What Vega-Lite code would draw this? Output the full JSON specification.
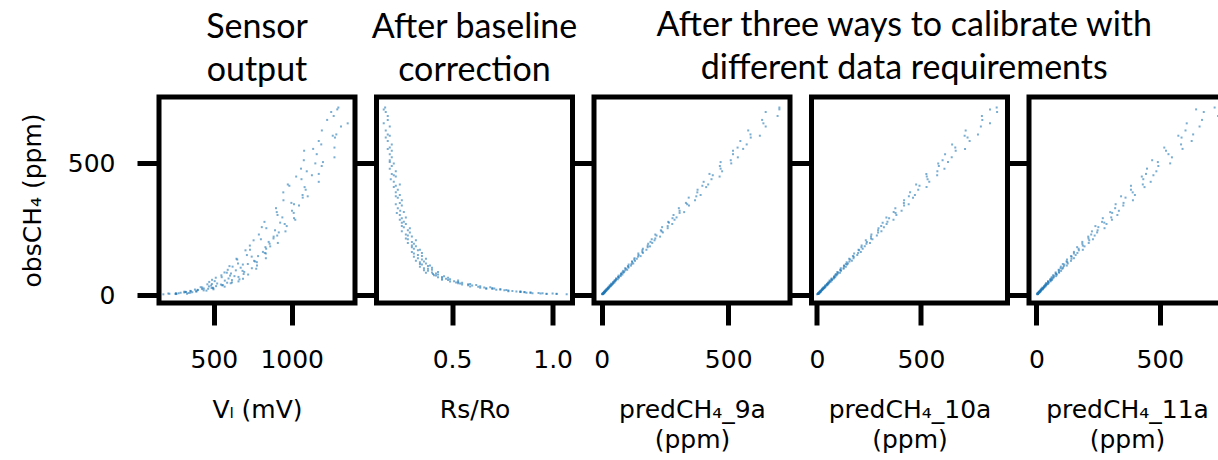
{
"$schema": "https://vega.github.io/schema/vega-lite/v6.json",
"padding": {"left": 17, "top": 8, "right": 0, "bottom": 0},
"bounds": "flush",
"spacing": 21.5,
"config": {
  "view": {"stroke": "black", "strokeWidth": 5},
  "axis": {"grid": false, "domain": false, "tickColor": "black", "tickWidth": 5, "tickSize": 22, "labelFont": "DejaVu Sans", "labelFontSize": 25, "labelColor": "black", "labelPadding": 22, "titleFont": "DejaVu Sans", "titleFontSize": 25, "titleFontWeight": "normal", "titleColor": "black", "titlePadding": 22, "titleLineHeight": 30, "labelFlush": false, "labelOverlap": false},
  "axisX": {"titlePadding": 25},
  "title": {"font": "Lato", "fontSize": 34, "fontWeight": "normal", "color": "black", "lineHeight": 43, "anchor": "middle", "frame": "group", "offset": 9}
},
"data": {"values": [
{"o":3,"v":175,"r":1.07,"a":4,"b":1,"c":4},
{"o":4,"v":259,"r":1.02,"a":2,"b":6,"c":6},
{"o":4,"v":253,"r":0.97,"a":4,"b":5,"c":4},
{"o":5,"v":214,"r":1.02,"a":7,"b":5,"c":4},
{"o":5,"v":327,"r":0.97,"a":4,"b":8,"c":6},
{"o":6,"v":256,"r":0.94,"a":4,"b":5,"c":5},
{"o":6,"v":207,"r":1.0,"a":7,"b":8,"c":7},
{"o":7,"v":255,"r":0.9,"a":7,"b":11,"c":5},
{"o":7,"v":273,"r":0.95,"a":6,"b":8,"c":7},
{"o":8,"v":337,"r":0.93,"a":10,"b":8,"c":11},
{"o":9,"v":286,"r":0.89,"a":7,"b":12,"c":8},
{"o":9,"v":348,"r":0.87,"a":10,"b":10,"c":6},
{"o":10,"v":310,"r":0.89,"a":12,"b":13,"c":12},
{"o":11,"v":361,"r":0.86,"a":10,"b":11,"c":11},
{"o":12,"v":320,"r":0.86,"a":10,"b":15,"c":11},
{"o":12,"v":318,"r":0.84,"a":13,"b":17,"c":14},
{"o":13,"v":310,"r":0.84,"a":12,"b":15,"c":10},
{"o":14,"v":385,"r":0.84,"a":15,"b":14,"c":15},
{"o":14,"v":389,"r":0.82,"a":12,"b":19,"c":17},
{"o":15,"v":351,"r":0.78,"a":15,"b":18,"c":14},
{"o":16,"v":349,"r":0.8,"a":18,"b":18,"c":14},
{"o":17,"v":452,"r":0.78,"a":16,"b":23,"c":19},
{"o":18,"v":434,"r":0.76,"a":15,"b":19,"c":17},
{"o":19,"v":397,"r":0.77,"a":20,"b":24,"c":20},
{"o":20,"v":395,"r":0.72,"a":20,"b":27,"c":17},
{"o":21,"v":378,"r":0.74,"a":19,"b":25,"c":21},
{"o":22,"v":497,"r":0.74,"a":24,"b":24,"c":26},
{"o":23,"v":424,"r":0.7,"a":20,"b":30,"c":22},
{"o":24,"v":463,"r":0.67,"a":24,"b":28,"c":20},
{"o":25,"v":435,"r":0.71,"a":27,"b":32,"c":27},
{"o":26,"v":496,"r":0.67,"a":25,"b":28,"c":26},
{"o":27,"v":485,"r":0.7,"a":24,"b":33,"c":25},
{"o":28,"v":493,"r":0.64,"a":29,"b":38,"c":31},
{"o":29,"v":425,"r":0.66,"a":27,"b":34,"c":25},
{"o":30,"v":415,"r":0.69,"a":31,"b":32,"c":31},
{"o":32,"v":569,"r":0.63,"a":28,"b":41,"c":36},
{"o":33,"v":468,"r":0.59,"a":33,"b":40,"c":32},
{"o":34,"v":514,"r":0.64,"a":37,"b":39,"c":31},
{"o":36,"v":482,"r":0.6,"a":34,"b":47,"c":38},
{"o":37,"v":554,"r":0.58,"a":32,"b":41,"c":35},
{"o":38,"v":557,"r":0.62,"a":40,"b":47,"c":40},
{"o":40,"v":545,"r":0.55,"a":39,"b":53,"c":36},
{"o":41,"v":458,"r":0.58,"a":38,"b":49,"c":41},
{"o":42,"v":487,"r":0.59,"a":44,"b":48,"c":47},
{"o":44,"v":521,"r":0.54,"a":39,"b":56,"c":42},
{"o":45,"v":608,"r":0.53,"a":45,"b":52,"c":39},
{"o":47,"v":585,"r":0.55,"a":50,"b":59,"c":50},
{"o":48,"v":616,"r":0.52,"a":46,"b":54,"c":48},
{"o":50,"v":470,"r":0.53,"a":46,"b":61,"c":47},
{"o":52,"v":658,"r":0.49,"a":53,"b":69,"c":57},
{"o":53,"v":505,"r":0.51,"a":50,"b":62,"c":47},
{"o":55,"v":570,"r":0.53,"a":56,"b":61,"c":57},
{"o":57,"v":616,"r":0.48,"a":52,"b":73,"c":63},
{"o":58,"v":488,"r":0.45,"a":57,"b":70,"c":57},
{"o":60,"v":664,"r":0.49,"a":64,"b":70,"c":56},
{"o":62,"v":687,"r":0.47,"a":59,"b":80,"c":65},
{"o":63,"v":594,"r":0.45,"a":57,"b":71,"c":60},
{"o":66,"v":512,"r":0.48,"a":68,"b":82,"c":69},
{"o":68,"v":550,"r":0.43,"a":67,"b":88,"c":62},
{"o":69,"v":658,"r":0.45,"a":65,"b":82,"c":70},
{"o":72,"v":632,"r":0.46,"a":75,"b":83,"c":80},
{"o":74,"v":604,"r":0.42,"a":67,"b":93,"c":72},
{"o":75,"v":548,"r":0.41,"a":75,"b":88,"c":67},
{"o":78,"v":720,"r":0.43,"a":82,"b":97,"c":83},
{"o":80,"v":691,"r":0.405,"a":77,"b":91,"c":80},
{"o":82,"v":610,"r":0.42,"a":77,"b":100,"c":78},
{"o":85,"v":583,"r":0.37,"a":86,"b":111,"c":92},
{"o":86,"v":568,"r":0.4,"a":82,"b":102,"c":78},
{"o":88,"v":695,"r":0.43,"a":89,"b":98,"c":91},
{"o":92,"v":684,"r":0.38,"a":85,"b":116,"c":100},
{"o":94,"v":641,"r":0.36,"a":93,"b":114,"c":92},
{"o":96,"v":589,"r":0.4,"a":101,"b":112,"c":90},
{"o":100,"v":772,"r":0.38,"a":96,"b":128,"c":105},
{"o":102,"v":744,"r":0.36,"a":93,"b":115,"c":98},
{"o":104,"v":672,"r":0.4,"a":106,"b":129,"c":108},
{"o":108,"v":620,"r":0.34,"a":106,"b":139,"c":99},
{"o":110,"v":600,"r":0.38,"a":104,"b":131,"c":111},
{"o":112,"v":777,"r":0.39,"a":116,"b":130,"c":123},
{"o":116,"v":686,"r":0.35,"a":107,"b":145,"c":113},
{"o":118,"v":718,"r":0.34,"a":118,"b":139,"c":107},
{"o":120,"v":655,"r":0.37,"a":125,"b":149,"c":127},
{"o":125,"v":776,"r":0.34,"a":121,"b":143,"c":125},
{"o":128,"v":765,"r":0.36,"a":120,"b":156,"c":122},
{"o":130,"v":758,"r":0.32,"a":132,"b":168,"c":140},
{"o":135,"v":650,"r":0.35,"a":129,"b":160,"c":124},
{"o":138,"v":645,"r":0.37,"a":139,"b":155,"c":142},
{"o":140,"v":834,"r":0.33,"a":130,"b":176,"c":152},
{"o":146,"v":743,"r":0.31,"a":144,"b":177,"c":143},
{"o":148,"v":784,"r":0.35,"a":154,"b":173,"c":140},
{"o":152,"v":712,"r":0.33,"a":146,"b":194,"c":159},
{"o":158,"v":834,"r":0.31,"a":145,"b":179,"c":152},
{"o":160,"v":827,"r":0.35,"a":163,"b":198,"c":166},
{"o":164,"v":815,"r":0.3,"a":161,"b":211,"c":152},
{"o":170,"v":703,"r":0.33,"a":161,"b":203,"c":172},
{"o":172,"v":732,"r":0.34,"a":177,"b":200,"c":188},
{"o":176,"v":836,"r":0.31,"a":163,"b":220,"c":171},
{"o":182,"v":831,"r":0.3,"a":182,"b":214,"c":165},
{"o":185,"v":862,"r":0.32,"a":191,"b":230,"c":195},
{"o":188,"v":731,"r":0.3,"a":182,"b":215,"c":188},
{"o":195,"v":858,"r":0.31,"a":184,"b":238,"c":186},
{"o":198,"v":911,"r":0.28,"a":200,"b":255,"c":212},
{"o":202,"v":852,"r":0.3,"a":193,"b":240,"c":186},
{"o":208,"v":755,"r":0.32,"a":209,"b":235,"c":214},
{"o":212,"v":802,"r":0.28,"a":198,"b":267,"c":229},
{"o":215,"v":883,"r":0.27,"a":212,"b":260,"c":211},
{"o":222,"v":884,"r":0.3,"a":231,"b":260,"c":210},
{"o":226,"v":907,"r":0.28,"a":217,"b":288,"c":236},
{"o":230,"v":789,"r":0.27,"a":212,"b":262,"c":222},
{"o":238,"v":917,"r":0.29,"a":242,"b":294,"c":246},
{"o":242,"v":960,"r":0.25,"a":237,"b":310,"c":225},
{"o":246,"v":893,"r":0.28,"a":234,"b":294,"c":248},
{"o":254,"v":837,"r":0.29,"a":261,"b":296,"c":276},
{"o":258,"v":808,"r":0.26,"a":239,"b":322,"c":251},
{"o":262,"v":968,"r":0.25,"a":261,"b":309,"c":239},
{"o":270,"v":955,"r":0.27,"a":279,"b":335,"c":284},
{"o":275,"v":926,"r":0.25,"a":266,"b":316,"c":275},
{"o":278,"v":825,"r":0.26,"a":263,"b":339,"c":266},
{"o":286,"v":1023,"r":0.24,"a":288,"b":368,"c":306},
{"o":292,"v":1015,"r":0.25,"a":280,"b":347,"c":269},
{"o":295,"v":940,"r":0.27,"a":296,"b":334,"c":303},
{"o":304,"v":909,"r":0.24,"a":284,"b":382,"c":328},
{"o":312,"v":1013,"r":0.225,"a":308,"b":378,"c":307},
{"o":315,"v":904,"r":0.26,"a":326,"b":369,"c":299},
{"o":320,"v":1002,"r":0.242,"a":308,"b":407,"c":334},
{"o":330,"v":899,"r":0.23,"a":305,"b":377,"c":319},
{"o":340,"v":1047,"r":0.25,"a":345,"b":419,"c":352},
{"o":345,"v":1015,"r":0.22,"a":338,"b":441,"c":321},
{"o":350,"v":998,"r":0.24,"a":333,"b":418,"c":353},
{"o":360,"v":947,"r":0.25,"a":369,"b":419,"c":391},
{"o":370,"v":1071,"r":0.23,"a":344,"b":462,"c":361},
{"o":375,"v":1103,"r":0.22,"a":374,"b":442,"c":343},
{"o":380,"v":1070,"r":0.24,"a":391,"b":471,"c":399},
{"o":390,"v":946,"r":0.22,"a":378,"b":448,"c":390},
{"o":400,"v":1090,"r":0.23,"a":379,"b":487,"c":383},
{"o":410,"v":1083,"r":0.21,"a":413,"b":527,"c":438},
{"o":415,"v":985,"r":0.22,"a":398,"b":493,"c":383},
{"o":420,"v":975,"r":0.24,"a":421,"b":477,"c":431},
{"o":430,"v":1174,"r":0.21,"a":403,"b":540,"c":463},
{"o":440,"v":1063,"r":0.195,"a":434,"b":532,"c":433},
{"o":450,"v":1029,"r":0.22,"a":466,"b":528,"c":427},
{"o":455,"v":1130,"r":0.21,"a":439,"b":578,"c":474},
{"o":460,"v":1174,"r":0.2,"a":426,"b":526,"c":444},
{"o":470,"v":1097,"r":0.22,"a":476,"b":579,"c":486},
{"o":480,"v":1060,"r":0.19,"a":470,"b":613,"c":448},
{"o":490,"v":1193,"r":0.2,"a":467,"b":586,"c":494},
{"o":500,"v":1152,"r":0.21,"a":512,"b":583,"c":542},
{"o":505,"v":1201,"r":0.19,"a":470,"b":630,"c":492},
{"o":512,"v":1078,"r":0.19,"a":510,"b":604,"c":469},
{"o":523,"v":1275,"r":0.2,"a":538,"b":648,"c":549},
{"o":535,"v":1161,"r":0.19,"a":519,"b":616,"c":535},
{"o":548,"v":1080,"r":0.2,"a":519,"b":667,"c":525},
{"o":555,"v":1138,"r":0.18,"a":559,"b":712,"c":592},
{"o":560,"v":1275,"r":0.19,"a":537,"b":665,"c":518},
{"o":572,"v":1190,"r":0.2,"a":573,"b":650,"c":586},
{"o":585,"v":1174,"r":0.18,"a":548,"b":734,"c":629},
{"o":598,"v":1278,"r":0.17,"a":589,"b":724,"c":588},
{"o":605,"v":1264,"r":0.19,"a":625,"b":710,"c":575},
{"o":610,"v":1287,"r":0.18,"a":588,"b":774,"c":635},
{"o":625,"v":1194,"r":0.17,"a":579,"b":715,"c":604},
{"o":640,"v":1317,"r":0.19,"a":648,"b":788,"c":661},
{"o":652,"v":1360,"r":0.16,"a":639,"b":832,"c":609},
{"o":665,"v":1228,"r":0.18,"a":634,"b":795,"c":671},
{"o":680,"v":1270,"r":0.18,"a":695,"b":793,"c":736},
{"o":695,"v":1254,"r":0.17,"a":648,"b":866,"c":678},
{"o":705,"v":1293,"r":0.16,"a":702,"b":832,"c":647},
{"o":712,"v":1300,"r":0.167,"a":702,"b":864,"c":722}
]},
"hconcat": [
  {
    "width": 196, "height": 206,
    "title": {"text": ["Sensor", "output"]},
    "mark": {"type": "point", "shape": "square", "filled": true, "size": 4, "opacity": 0.6, "color": "#1f77b4", "clip": true},
    "encoding": {
      "x": {"field": "v", "type": "quantitative", "scale": {"domain": [147, 1407], "nice": false, "zero": false}, "axis": {"values": [500, 1000], "format": "d", "title": "Vₗ (mV)"}},
      "y": {"field": "o", "type": "quantitative", "scale": {"domain": [-30, 752], "nice": false, "zero": false}, "axis": {"values": [0, 500], "format": "d", "title": "obsCH₄ (ppm)"}}
    }
  },
  {
    "width": 196, "height": 206,
    "title": {"text": ["After baseline", "correction"]},
    "mark": {"type": "point", "shape": "square", "filled": true, "size": 4, "opacity": 0.6, "color": "#1f77b4", "clip": true},
    "encoding": {
      "x": {"field": "r", "type": "quantitative", "scale": {"domain": [0.124, 1.099], "nice": false, "zero": false}, "axis": {"values": [0.5, 1.0], "format": ".1f", "title": "Rs/Ro"}},
      "y": {"field": "o", "type": "quantitative", "scale": {"domain": [-30, 752], "nice": false, "zero": false}, "axis": {"values": [0, 500], "labels": false, "title": null}}
    }
  },
  {
    "title": {"text": ["After three ways to calibrate with", "different data requirements"], "frame": "bounds", "dx": 7},
    "bounds": "flush",
    "spacing": 21.5,
    "hconcat": [
      {
        "width": 196, "height": 206,
        "mark": {"type": "point", "shape": "square", "filled": true, "size": 4, "opacity": 0.6, "color": "#1f77b4", "clip": true},
        "encoding": {
          "x": {"field": "a", "type": "quantitative", "scale": {"domain": [-30, 744], "nice": false, "zero": false}, "axis": {"values": [0, 500], "format": "d", "title": ["predCH₄_9a", "(ppm)"]}},
          "y": {"field": "o", "type": "quantitative", "scale": {"domain": [-30, 752], "nice": false, "zero": false}, "axis": {"values": [0, 500], "labels": false, "title": null}}
        }
      },
      {
        "width": 196, "height": 206,
        "mark": {"type": "point", "shape": "square", "filled": true, "size": 4, "opacity": 0.6, "color": "#1f77b4", "clip": true},
        "encoding": {
          "x": {"field": "b", "type": "quantitative", "scale": {"domain": [-26, 916], "nice": false, "zero": false}, "axis": {"values": [0, 500], "format": "d", "title": ["predCH₄_10a", "(ppm)"]}},
          "y": {"field": "o", "type": "quantitative", "scale": {"domain": [-30, 752], "nice": false, "zero": false}, "axis": {"values": [0, 500], "labels": false, "title": null}}
        }
      },
      {
        "width": 196, "height": 206,
        "mark": {"type": "point", "shape": "square", "filled": true, "size": 4, "opacity": 0.6, "color": "#1f77b4", "clip": true},
        "encoding": {
          "x": {"field": "c", "type": "quantitative", "scale": {"domain": [-30, 764], "nice": false, "zero": false}, "axis": {"values": [0, 500], "format": "d", "title": ["predCH₄_11a", "(ppm)"]}},
          "y": {"field": "o", "type": "quantitative", "scale": {"domain": [-30, 752], "nice": false, "zero": false}, "axis": {"values": [0, 500], "labels": false, "title": null}}
        }
      }
    ]
  }
]
}
